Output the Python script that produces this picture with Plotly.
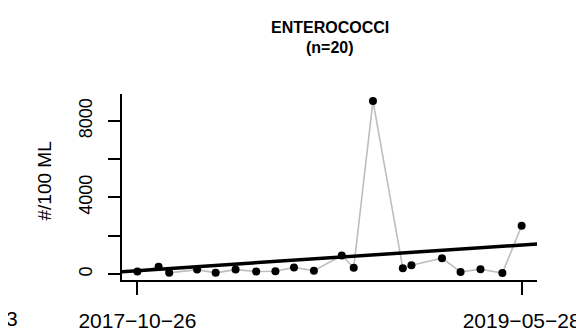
import numpy as np
import pandas as pd
import plotly.graph_objects as go

# ---- data ----
dates = ["2017-10-26", "2017-11-27", "2017-12-13", "2018-01-24", "2018-02-21",
         "2018-03-23", "2018-04-23", "2018-05-22", "2018-06-19", "2018-07-19",
         "2018-08-30", "2018-09-17", "2018-10-16", "2018-11-30", "2018-12-13",
         "2019-01-28", "2019-02-25", "2019-03-27", "2019-04-29", "2019-05-28"]
values = [134, 383, 65, 234, 65, 234, 134, 149, 348, 174,
          970, 333, 9045, 299, 463, 831, 114, 249, 50, 2523]
y_tickvals = [0, 2000, 4000, 6000, 8000]
y_ticktext = ["0", "", "4000", "", "8000"]
x_tick_dates = ["2017-10-26", "2019-05-28"]
x_ticktext = ["2017\u221210\u221226", "2019\u221205\u221228"]
title_line1 = "<b>ENTEROCOCCI</b>"
title_line2 = "<b>(n=20)</b>"
y_title = "#/100 ML"
FONT = "Liberation Sans, Arial, sans-serif"

# plot-area geometry (pixels)
L, R, T, B = 114, 538, 86, 281
W, H = R - L, B - T

def px_x(p):
    return (p - L) / W

def px_y(p):
    return (B - p) / H

t = pd.to_datetime(dates)
t0, t1 = t.min(), t.max()
span = t1 - t0
xr = [t0 - 0.04 * span, t1 + 0.04 * span]
vmin, vmax = min(values), max(values)
D = vmax - vmin
yr = [vmin - 0.04 * D, vmax + 0.04 * D]

# linear trend (OLS) across full axis range
days = np.array([(d - t0).days for d in t], dtype=float)
slope, intercept = np.polyfit(days, np.array(values, dtype=float), 1)
xr_days = np.array([(xr[0] - t0) / pd.Timedelta(days=1), (xr[1] - t0) / pd.Timedelta(days=1)])
trend_y = intercept + slope * xr_days

fig = go.Figure()
fig.add_trace(go.Scatter(x=t, y=values, mode="lines",
                         line=dict(color="#BEBEBE", width=1.6),
                         hoverinfo="skip", showlegend=False))
fig.add_trace(go.Scatter(x=t, y=values, mode="markers",
                         marker=dict(color="black", size=8),
                         showlegend=False))
fig.add_trace(go.Scatter(x=xr, y=trend_y, mode="lines",
                         line=dict(color="black", width=3.5),
                         showlegend=False))

fig.update_layout(
    width=584, height=336,
    margin=dict(l=L, r=584 - R, t=T, b=336 - B),
    plot_bgcolor="white", paper_bgcolor="white",
    font=dict(family=FONT, color="black"),
    xaxis=dict(type="date", range=xr, showgrid=False, zeroline=False,
               showline=True, linecolor="black", linewidth=1.5,
               ticks="outside", ticklen=13, tickwidth=1.5, tickcolor="black",
               tickvals=pd.to_datetime(x_tick_dates), ticktext=x_ticktext,
               tickfont=dict(size=21, family=FONT, color="black"),
               ticklabelstandoff=8),
    yaxis=dict(range=yr, showgrid=False, zeroline=False,
               showline=True, linecolor="black", linewidth=1.5,
               ticks="outside", ticklen=12, tickwidth=1.5, tickcolor="black",
               tickvals=y_tickvals, ticktext=y_ticktext, tickangle=-90,
               tickfont=dict(size=18, family=FONT, color="black"),
               ticklabelstandoff=9),
    annotations=[
        dict(text=title_line1, xref="paper", yref="paper", x=0.5, y=px_y(16.8),
             xanchor="center", yanchor="middle", showarrow=False,
             font=dict(size=16, family=FONT, color="black")),
        dict(text=title_line2, xref="paper", yref="paper", x=0.5, y=px_y(37),
             xanchor="center", yanchor="middle", showarrow=False,
             font=dict(size=16, family=FONT, color="black")),
        dict(text=y_title, xref="paper", yref="paper", x=px_x(35), y=px_y(177),
             xanchor="center", yanchor="middle", textangle=-90, showarrow=False,
             font=dict(size=19, family=FONT, color="black")),
        dict(text="3", xref="paper", yref="paper", x=px_x(10), y=px_y(321.5),
             xanchor="right", yanchor="middle", showarrow=False,
             font=dict(size=21, family=FONT, color="black")),
    ],
)

fig.write_html("out.html")
